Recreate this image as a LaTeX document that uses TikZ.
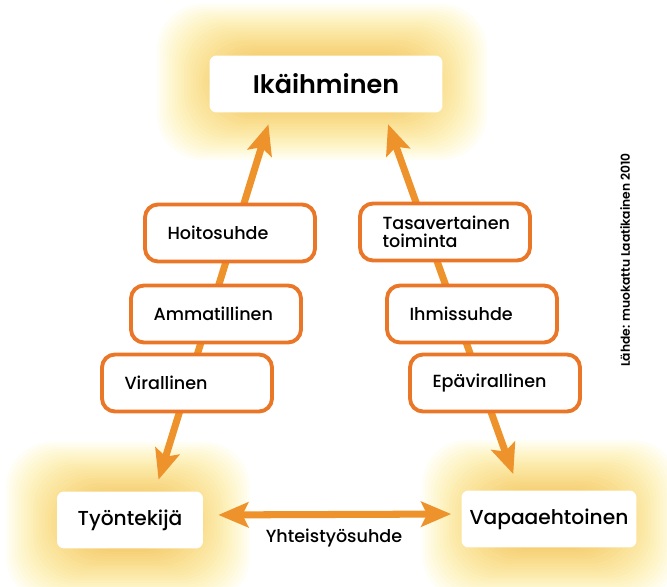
\documentclass[tikz,border=0pt]{standalone}
\usepackage{fontspec}
\setmainfont{Poppins}[UprightFont={* Medium},BoldFont={* SemiBold}]
\usetikzlibrary{arrows.meta}

\definecolor{pilke}{RGB}{238,146,44}
\definecolor{reuna}{RGB}{234,118,40}
\definecolor{hehku}{RGB}{253,236,120}

% hehku: keskipiste x, y, puolileveys, puolikorkeus
\newcommand{\hehku}[4]{%
  \foreach \k in {0,...,27}{
    \pgfmathtruncatemacro{\p}{100-\k*3}
    \fill[hehku!\p!pilke,opacity=0.07,rounded corners=0.9cm]
      ({#1-#3+\k*3},{#2-#4+\k*2.4}) rectangle ({#1+#3-\k*3},{#2+#4-\k*2.4});
  }}

\begin{document}
\begin{tikzpicture}[x=0.02cm,y=-0.02cm,
  iso/.style = {fill=white,rounded corners=0.14cm,minimum height=1.14cm,inner sep=0pt},
  suhde/.style = {draw=reuna,line width=2.2pt,fill=white,rounded corners=0.26cm,minimum width=3.4cm,minimum height=1.14cm,text width=2.5cm,align=left,font=\fontsize{10}{10.5}\selectfont},
  nuoli/.style = {draw=pilke,line width=4pt,>={Stealth[length=0.6cm,width=0.5cm,inset=0.12cm]},<->}]
\useasboundingbox (0,0) rectangle (667,587);
%\hehku{x}{y}{w}{h}
\hehku{322}{82}{165}{78}
\hehku{128}{522}{122}{80}
\hehku{550}{520}{128}{80}

\node (ikai) at (326,84) [iso,minimum width=4.66cm,font=\bfseries\fontsize{14.5}{15}\selectfont] {Ikäihminen};
\node (tyontekija) at (130,520) [iso,minimum width=2.92cm,font=\fontsize{11.5}{12}\selectfont] {Työntekijä};
\node (vapaa) at (549,519) [iso,minimum width=3.5cm,font=\fontsize{11.5}{12}\selectfont] {Vapaaehtoinen};

\draw[nuoli,shorten <=0.24cm,shorten >=0.24cm] ([xshift=0.5cm]tyontekija.north) -- ([xshift=-1.08cm]ikai.south);
\draw[nuoli,shorten <=0.34cm,shorten >=0.24cm] ([xshift=-0.6cm]vapaa.north) -- ([xshift=1.16cm]ikai.south);
\draw[nuoli,shorten <=0.3cm,shorten >=0.2cm] ([yshift=0.1cm]tyontekija.east) -- ([yshift=0.1cm]vapaa.west);
\node (yhteis) at (334,538) [font=\fontsize{10}{11}\selectfont] {Yhteistyösuhde};

\node (hoito) at (230,233) [suhde] {Hoitosuhde};
\node (ammat) at (216,314) [suhde] {Ammatillinen};
\node (virall) at (187,383) [suhde] {Virallinen};
\node (tasa) at (445,232) [suhde] {Tasavertainen\\toiminta};
\node (ihmis) at (472,314) [suhde] {Ihmissuhde};
\node (epavir) at (495,383) [suhde] {Epävirallinen};

\node (lahde) at (625,260) [rotate=90,font=\bfseries\fontsize{7}{8}\selectfont] {Lähde: muokattu Laatikainen 2010};

\end{tikzpicture}
\end{document}
